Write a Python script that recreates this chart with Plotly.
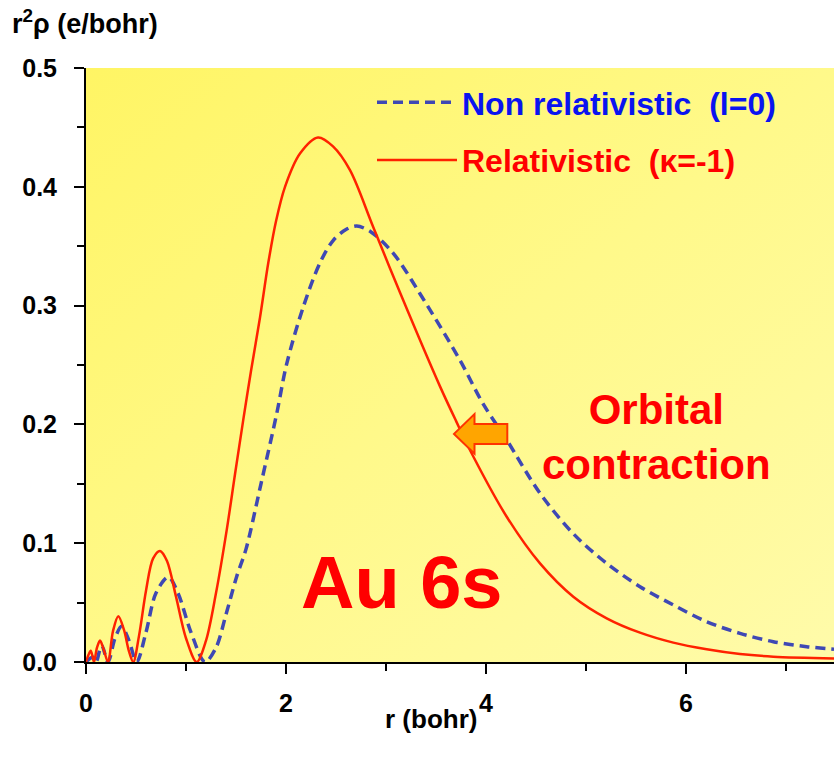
import base64
import plotly.graph_objects as go

# ---- data ----
r_rel = [0.0, 0.025, 0.047, 0.065, 0.08, 0.11, 0.14, 0.175, 0.22, 0.27, 0.323, 0.38, 0.43, 0.473,
         0.53, 0.6, 0.67, 0.74, 0.81, 0.9, 1.0, 1.107, 1.2, 1.3, 1.407, 1.49, 1.573, 1.65, 1.74,
         1.823, 1.9, 1.99, 2.14, 2.32, 2.47, 2.64, 2.873, 3.14, 3.54, 3.70, 3.873, 4.207, 4.54,
         4.873, 5.207, 5.54, 5.873, 6.207, 6.54, 6.873, 7.48]
v_rel = [0.0, 0.006, 0.0095, 0.005, 0.0, 0.012, 0.018, 0.011, 0.0, 0.026, 0.0385, 0.027, 0.009, 0.0,
         0.022, 0.06, 0.087, 0.0935, 0.085, 0.055, 0.02, 0.0, 0.018, 0.058, 0.111, 0.158, 0.204,
         0.245, 0.290, 0.336, 0.371, 0.400, 0.428, 0.4415, 0.434, 0.414, 0.366, 0.311, 0.232, 0.203,
         0.173, 0.1223, 0.083, 0.055, 0.0368, 0.0247, 0.0163, 0.0107, 0.0067, 0.0045, 0.003]

r_nr = [0.0, 0.04, 0.07, 0.1, 0.157, 0.22, 0.29, 0.357, 0.43, 0.507, 0.6, 0.7, 0.823, 0.92, 1.05,
        1.19, 1.3, 1.4, 1.507, 1.6, 1.75, 1.907, 2.007, 2.173, 2.34, 2.473, 2.6, 2.707, 2.85, 3.073,
        3.34, 3.74, 3.973, 4.207, 4.54, 4.873, 5.207, 5.54, 5.873, 6.207, 6.54, 6.873, 7.207, 7.48]
v_nr = [0.0, 0.003, 0.004, 0.0, 0.014, 0.0, 0.02, 0.030, 0.018, 0.0, 0.025, 0.058, 0.0715, 0.058,
        0.025, 0.0, 0.012, 0.04, 0.072, 0.095, 0.15, 0.209, 0.251, 0.299, 0.336, 0.355, 0.364, 0.367,
        0.362, 0.344, 0.310, 0.254, 0.217, 0.187, 0.142, 0.108, 0.083, 0.0634, 0.048, 0.0339, 0.0241,
        0.0171, 0.0129, 0.0107]

series_names = ["Non relativistic  (l=0)", "Relativistic  (κ=-1)"]
x_ticks = [0, 2, 4, 6]
y_ticks = [0.0, 0.1, 0.2, 0.3, 0.4, 0.5]

FONT = "Liberation Sans, Arial, Helvetica, sans-serif"
RED = "#FF2200"
BLUE_LINE = "#3F48B4"

fig = go.Figure()
fig.add_trace(go.Scatter(
    x=r_nr, y=v_nr, mode="lines", line_shape="spline", legendgroup="nr",
    line=dict(color=BLUE_LINE, width=3.5, dash="10px,6px", smoothing=0.9),
    name="<span style='color:#0A14F0'>" + series_names[0] + "</span>"))
fig.add_trace(go.Scatter(
    x=r_rel, y=v_rel, mode="lines", line_shape="spline", legendgroup="rel",
    line=dict(color=RED, width=2.5, smoothing=0.9),
    name="<span style='color:#FF0000'>" + series_names[1] + "</span>"))

# gradient background for the plot area (SVG data URI)
svg = ("<svg xmlns='http://www.w3.org/2000/svg' width='100' height='100' preserveAspectRatio='none'>"
       "<defs><linearGradient id='g' x1='0' y1='0' x2='1' y2='1'>"
       "<stop offset='0' stop-color='#FFF564'/><stop offset='0.5' stop-color='#FFF98A'/>"
       "<stop offset='1' stop-color='#FFFBAA'/></linearGradient></defs>"
       "<rect width='100' height='100' fill='url(#g)'/></svg>")
svg_uri = "data:image/svg+xml;base64," + base64.b64encode(svg.encode()).decode()
fig.add_layout_image(dict(source=svg_uri, xref="paper", yref="paper", x=0, y=1,
                          sizex=1, sizey=1, sizing="stretch", layer="below", xanchor="left",
                          yanchor="top"))

# orbital contraction block arrow (data coordinates)
arrow_tip = (3.68, 0.192)
arrow_head_x = 3.885
arrow_tail_x = 4.213
head_half = 0.0167
body_half = 0.0084
tx, ty = arrow_tip
path = (f"M {tx},{ty} L {arrow_head_x},{ty + head_half} L {arrow_head_x},{ty + body_half} "
        f"L {arrow_tail_x},{ty + body_half} L {arrow_tail_x},{ty - body_half} "
        f"L {arrow_head_x},{ty - body_half} L {arrow_head_x},{ty - head_half} Z")
fig.add_shape(type="path", path=path, xref="x", yref="y",
              fillcolor="#FFA500", line=dict(color="#FF3300", width=2))

fig.add_annotation(text="Au 6s", xref="paper", yref="paper", x=(402 - 86) / 748,
                   y=(662 - 582) / 594, xanchor="center", yanchor="middle", showarrow=False,
                   font=dict(family=FONT, size=74, color="#FF0000", weight="bold"))
fig.add_annotation(text="Orbital<br>contraction", xref="paper", yref="paper",
                   x=(656 - 86) / 748, y=(662 - 437) / 594, xanchor="center", yanchor="middle",
                   showarrow=False, align="center",
                   font=dict(family=FONT, size=42, color="#FF0000", weight="bold"))
fig.add_annotation(text="r (bohr)", xref="paper", yref="paper", x=(431 - 86) / 748,
                   y=-(719 - 662) / 594, xanchor="center", yanchor="middle", showarrow=False,
                   font=dict(family=FONT, size=26, color="black", weight="bold"))
fig.add_annotation(text="r<sup>2</sup>ρ (e/bohr)", xref="paper", yref="paper",
                   x=-(86 - 10) / 748, y=1 + (68 - 22) / 594, xanchor="left", yanchor="middle",
                   showarrow=False,
                   font=dict(family=FONT, size=27, color="black", weight="bold"))

fig.update_layout(
    width=834, height=761,
    margin=dict(l=86, r=0, t=68, b=99),
    paper_bgcolor="white", plot_bgcolor="#FFF98A",
    font=dict(family=FONT, color="black"),
    showlegend=True,
    legend=dict(x=(372 - 86) / 748, y=1 - (75 - 68) / 594, xanchor="left", yanchor="top",
                bgcolor="rgba(0,0,0,0)", itemwidth=80, tracegroupgap=13,
                font=dict(family=FONT, size=32, weight="bold")),
    xaxis=dict(range=[0, 7.48], tickvals=x_ticks, ticks="outside", ticklen=10, tickwidth=2,
               tickcolor="black", showline=True, linecolor="black", linewidth=2,
               showgrid=False, zeroline=False, ticklabelstandoff=8,
               tickfont=dict(family=FONT, size=25, color="black", weight="bold"),
               minor=dict(dtick=1, ticks="outside", ticklen=7, tickwidth=2, tickcolor="black",
                          showgrid=False)),
    yaxis=dict(range=[0, 0.5], tickvals=y_ticks, tickformat=".1f", ticks="outside", ticklen=10,
               tickwidth=2, tickcolor="black", showline=True, linecolor="black", linewidth=2,
               showgrid=False, zeroline=False, ticklabelstandoff=12,
               tickfont=dict(family=FONT, size=25, color="black", weight="bold"),
               minor=dict(dtick=0.05, ticks="outside", ticklen=7, tickwidth=2, tickcolor="black",
                          showgrid=False)),
)

fig.write_html("out.html", config={"displayModeBar": False},
               post_script="document.body.style.margin='0';")
